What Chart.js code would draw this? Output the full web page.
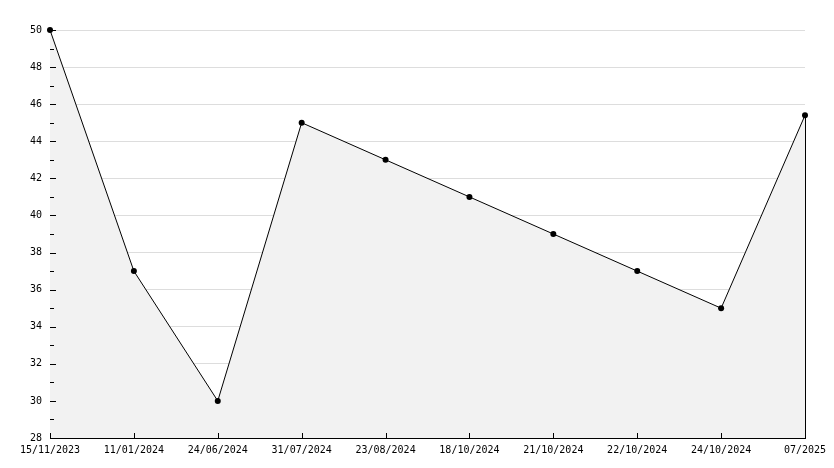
<!DOCTYPE html>
<html>
<head>
<meta charset="utf-8">
<script src="https://cdn.jsdelivr.net/npm/chart.js@4"></script>
<style>
html,body{margin:0;padding:0;background:#fff;}
#wrap{width:834px;height:468px;}
</style>
</head>
<body>
<div id="wrap"><canvas id="c" width="834" height="468"></canvas></div>
<script>
const categories = ['15/11/2023','11/01/2024','24/06/2024','31/07/2024','23/08/2024','18/10/2024','21/10/2024','22/10/2024','24/10/2024','07/2025'];
const values = [50, 37, 30, 45, 43, 41, 39, 37, 35, 45.4];
const yMin = 28, yMax = 50, yMajorStep = 2, yMinorStep = 1;

const FONT = {family: '"DejaVu Sans Mono", monospace', size: 10};

const innerTicks = {
  id: 'innerTicks',
  afterDatasetsDraw(chart) {
    const ctx = chart.ctx;
    const y = chart.scales.y, x = chart.scales.x;
    const area = chart.chartArea;
    ctx.save();
    ctx.strokeStyle = '#000';
    ctx.lineWidth = 1;
    // closing edge of the filled area at the last point
    const meta = chart.getDatasetMeta(0);
    const last = meta.data[meta.data.length - 1];
    const lx = Math.round(last.x) + 0.5;
    ctx.beginPath();
    ctx.moveTo(lx, last.y);
    ctx.lineTo(lx, area.bottom);
    ctx.stroke();
    // y ticks pointing inward
    for (let v = yMin; v <= yMax; v += yMinorStep) {
      const py = Math.round(y.getPixelForValue(v)) + 0.5;
      const len = ((v - yMin) % yMajorStep === 0) ? 6 : 4;
      ctx.beginPath();
      ctx.moveTo(area.left, py);
      ctx.lineTo(area.left + len, py);
      ctx.stroke();
    }
    // x ticks pointing inward
    for (let i = 0; i < categories.length; i++) {
      const px = Math.round(x.getPixelForValue(i)) + 0.5;
      ctx.beginPath();
      ctx.moveTo(px, area.bottom);
      ctx.lineTo(px, area.bottom - 5);
      ctx.stroke();
    }
    ctx.restore();
  }
};

new Chart(document.getElementById('c'), {
  type: 'line',
  data: {
    labels: categories,
    datasets: [{
      data: values,
      borderColor: '#000',
      borderWidth: 1,
      backgroundColor: '#f2f2f2',
      fill: 'start',
      tension: 0,
      clip: false,
      pointRadius: 3,
      pointBackgroundColor: '#000',
      pointBorderColor: '#000',
      pointBorderWidth: 0
    }]
  },
  options: {
    responsive: false,
    animation: false,
    events: [],
    layout: {padding: {top: 30, right: 29, left: 0, bottom: 0}},
    plugins: {legend: {display: false}, tooltip: {enabled: false}},
    scales: {
      x: {
        offset: false,
        grid: {color: 'rgba(0,0,0,0)', drawTicks: false},
        border: {display: true, color: '#000', width: 1},
        ticks: {color: '#000', font: FONT, padding: 6, maxRotation: 0, autoSkip: false},
        afterFit(s) { s.height = 30; }
      },
      y: {
        min: yMin, max: yMax,
        grid: {color: '#dddddd', drawTicks: false},
        border: {display: true, color: '#000', width: 1},
        ticks: {stepSize: yMajorStep, color: '#000', font: FONT, padding: 8},
        afterFit(s) { s.width = 50; }
      }
    }
  },
  plugins: [innerTicks]
});
</script>
</body>
</html>
